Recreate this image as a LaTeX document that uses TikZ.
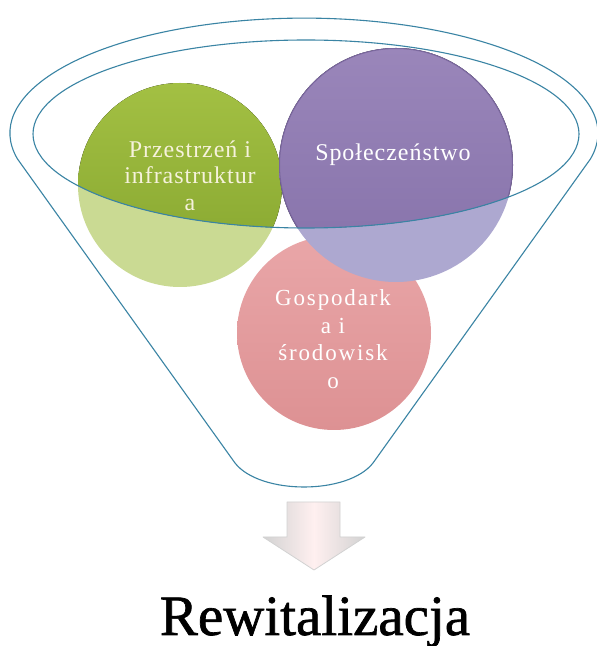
\documentclass[tikz,border=0pt]{standalone}
\usepackage{fontspec}
\setmainfont{Liberation Serif}
\newfontfamily\circfont[LetterSpace=4]{Liberation Serif}
\newfontfamily\pinkfont[LetterSpace=8]{Liberation Serif}
\newfontfamily\titlefont[FakeBold=1.2]{Liberation Serif}
\definecolor{funnelblue}{HTML}{3A84A4}
\definecolor{greenT}{HTML}{A3C043}
\definecolor{greenB}{HTML}{84A42E}
\definecolor{greenL}{HTML}{CADA93}
\definecolor{purpleT}{HTML}{9A86BA}
\definecolor{purpleB}{HTML}{8571A9}
\definecolor{purpleL}{HTML}{ADA8D0}
\definecolor{purpleE}{HTML}{6F5C94}
\definecolor{pinkT}{HTML}{E9A6A8}
\definecolor{pinkB}{HTML}{DD9193}
\definecolor{creamtext}{HTML}{F6F2DC}
\tikzset{
  bubble/.style={circle, inner sep=0pt, draw=none},
  ctext/.style={text=white, align=center, inner sep=0pt},
  funnelline/.style={draw=funnelblue, line width=1.1pt},
}
\begin{document}
\begin{tikzpicture}[x=1pt,y=1pt]
\useasboundingbox (0,0) rectangle (597,646);
\fill[white] (0,0) rectangle (597,646);

% pink circle (below the mouth)
\node[bubble, minimum size=194pt, top color=pinkT, bottom color=pinkB] (pk) at (334,313) {};

% green circle: light part, then saturated part inside the mouth
\node[bubble, minimum size=204pt, fill=greenL] (gr) at (180,461) {};
\begin{scope}
  \clip (306,512) ellipse [x radius=273, y radius=94];
  \fill[top color=greenT, bottom color=greenB] (gr.center) circle [radius=102];
\end{scope}

% purple circle
\node[bubble, minimum size=234pt, fill=purpleL] (pu) at (396,481) {};
\begin{scope}
  \clip (306,512) ellipse [x radius=273, y radius=94];
  \fill[top color=purpleT, bottom color=purpleB] (pu.center) circle [radius=117];
  \draw[purpleE, line width=1pt, opacity=0.7] (pu.center) circle [radius=116.5];
\end{scope}

% texts
\node[ctext, text=creamtext, font=\circfont\fontsize{24}{26.5}\selectfont] (gt) at (190,470.5) {Przestrzeń i\\infrastruktur\\a};
\node[ctext, font=\circfont\fontsize{24}{26.5}\selectfont] (st) at (393,491.5) {Społeczeństwo};
\node[ctext, font=\pinkfont\fontsize{23}{27.5}\selectfont] (pt) at (333,307) {Gospodark\\a i\\środowisk\\o};

% funnel
\draw[funnelline] (306,512) ellipse [x radius=273, y radius=94];
\draw[funnelline, line join=round]
  (17.5,487) arc[start angle=193, end angle=-13, x radius=294, y radius=115]
  -- (373,183) .. controls (348,151) and (260,151) .. (235,183) -- cycle;

% block arrow
\path[draw=gray!35, line width=0.8pt, line join=round,
      left color=gray!35, right color=gray!35, middle color=red!6!white]
  (287,144) -- (340,144) -- (340,109) -- (365,109) -- (314,76) -- (263,109) -- (287,109) -- cycle;

% title
\node[font=\titlefont\fontsize{57}{60}\selectfont, anchor=base, inner sep=0pt] (rw) at (315,11) {Rewitalizacja};
\end{tikzpicture}
\end{document}
